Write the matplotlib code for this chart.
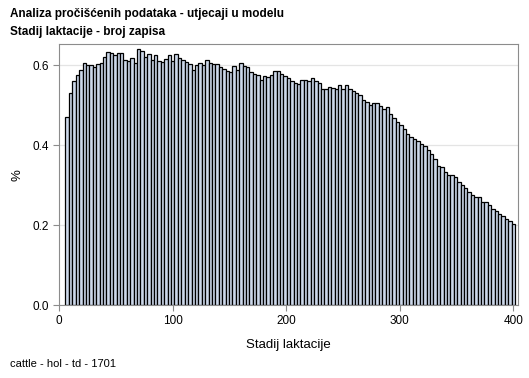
import numpy as np
import matplotlib
matplotlib.use("Agg")
import matplotlib.pyplot as plt

plt.rcParams['font.family'] = ['Liberation Sans', 'DejaVu Sans']

# lactation stage, 3-day classes (class centre in days)
days = np.arange(132) * 3 + 7
# share of records (%)
pct = [
    0.471, 0.531, 0.561, 0.574, 0.588, 0.604, 0.600, 0.600, 0.596, 0.603,
    0.604, 0.620, 0.633, 0.630, 0.626, 0.630, 0.630, 0.612, 0.610, 0.617,
    0.606, 0.640, 0.635, 0.620, 0.627, 0.612, 0.626, 0.610, 0.608, 0.615,
    0.626, 0.611, 0.628, 0.618, 0.613, 0.608, 0.602, 0.588, 0.600, 0.605,
    0.600, 0.612, 0.604, 0.603, 0.603, 0.595, 0.590, 0.585, 0.583, 0.597,
    0.587, 0.604, 0.597, 0.595, 0.583, 0.578, 0.575, 0.562, 0.572, 0.570,
    0.574, 0.585, 0.584, 0.577, 0.572, 0.567, 0.560, 0.556, 0.553, 0.562,
    0.562, 0.560, 0.568, 0.560, 0.555, 0.541, 0.541, 0.545, 0.542, 0.540,
    0.549, 0.541, 0.549, 0.540, 0.535, 0.530, 0.524, 0.512, 0.508, 0.500,
    0.505, 0.505, 0.498, 0.490, 0.495, 0.478, 0.468, 0.458, 0.449, 0.441,
    0.427, 0.420, 0.416, 0.409, 0.403, 0.397, 0.387, 0.377, 0.366, 0.347,
    0.345, 0.332, 0.325, 0.324, 0.320, 0.307, 0.299, 0.292, 0.282, 0.274,
    0.269, 0.269, 0.257, 0.257, 0.250, 0.240, 0.235, 0.228, 0.222, 0.215,
    0.210, 0.203,
]
xticks = [0, 100, 200, 300, 400]
yticks = [0.0, 0.2, 0.4, 0.6]

fig = plt.figure(figsize=(5.29, 3.78), dpi=100)
ax = fig.add_axes([0.112, 0.193, 0.867, 0.690])

ax.bar(days, pct, width=3, color='#ccd8ea', edgecolor='black', linewidth=0.9, zorder=2)

ax.set_xlim(0, 404)
ax.set_ylim(0, 0.652)
ax.set_xticks(xticks)
ax.set_yticks(yticks)
ax.set_yticklabels(['%.1f' % v for v in yticks])
ax.yaxis.grid(True, color='#e4e4e4', linewidth=0.9, zorder=0)
ax.set_axisbelow(True)
for s in ax.spines.values():
    s.set_color('#8c8c8c')
ax.tick_params(colors='#8c8c8c', labelcolor='black', labelsize=8.5, length=4)

ax.set_xlabel('Stadij laktacije', fontsize=9.5, labelpad=8)
ax.set_ylabel('%', fontsize=9.5, labelpad=6)

fig.text(0.019, 0.962, 'Analiza pročišćenih podataka - utjecaji u modelu',
         fontsize=8.5, fontweight='bold', va='center')
fig.text(0.019, 0.915, 'Stadij laktacije - broj zapisa',
         fontsize=8.5, fontweight='bold', va='center')
fig.text(0.019, 0.038, 'cattle - hol - td - 1701', fontsize=8, va='center')

fig.savefig('out.png', dpi=100)
